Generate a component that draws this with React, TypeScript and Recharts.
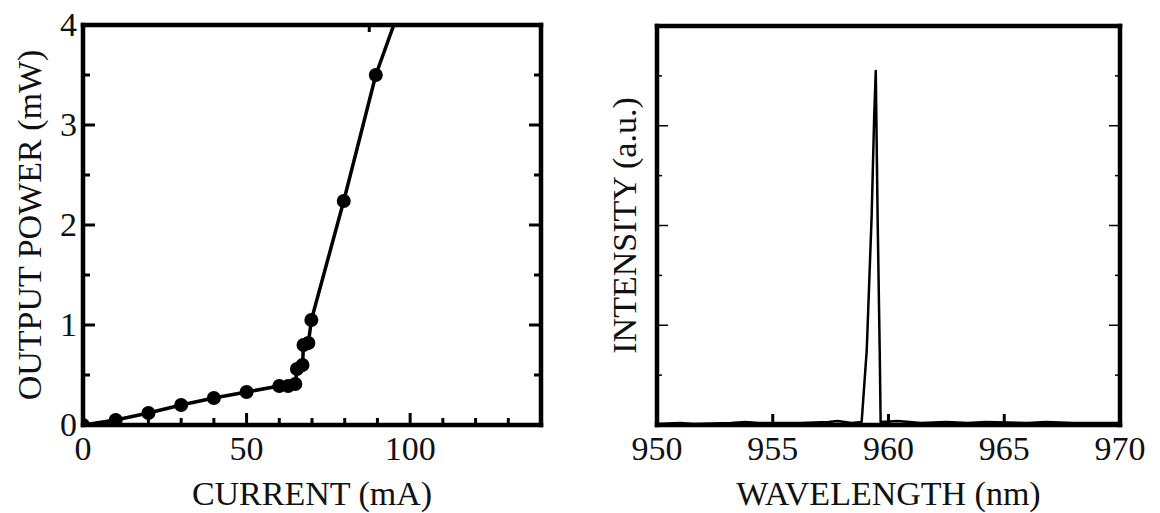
import { ComposedChart, Line, XAxis, YAxis } from 'recharts';

// L-I curve
const currentMA = [0, 10, 20, 30, 40, 50, 60, 62.7, 64.9, 65.4, 67.1, 67.4, 68.9, 69.8, 79.7, 89.5];
const powerMW = [0, 0.05, 0.12, 0.2, 0.27, 0.33, 0.39, 0.39, 0.41, 0.56, 0.6, 0.8, 0.82, 1.05, 2.24, 3.5];
// the drawn line keeps going past the last dot up to the frame
const fitEndMA = 95;
const fitEndMW = 4;

// lasing spectrum, right panel
const wavelengthNm = [
  950, 951, 951.6, 953.2, 953.8, 954.4, 955, 956.2, 957.4, 957.8, 958.4, 958.84, 959.06, 959.27, 959.38,
  959.45, 959.53, 959.62, 959.66, 960.4, 960.9, 961.4, 962.5, 963.4, 964.2, 966, 966.8, 968, 969.2, 970,
];
const intensityAU = [
  0.01, 0.02, 0.01, 0.02, 0.03, 0.02, 0.02, 0.02, 0.03, 0.04, 0.02, 0.03, 0.75, 2.08, 3.08,
  3.55, 2.08, 0.75, 0.03, 0.04, 0.03, 0.02, 0.03, 0.02, 0.03, 0.02, 0.03, 0.02, 0.02, 0.02,
];

const currentTicks = [0, 10, 20, 30, 40, 50, 60, 70, 80, 90, 100, 110, 120, 130, 140];
const currentLabels = [0, 50, 100];
const levelTicks = [0, 0.5, 1, 1.5, 2, 2.5, 3, 3.5, 4];
const powerLabels = [0, 1, 2, 3, 4];
const wavelengthTicks = [950, 955, 960, 965, 970];

const INK = '#000';
const TEXT = '#111';
const FONT = '"Liberation Serif", "DejaVu Serif", "Noto Serif", serif';
const FS = 34;

type Side = 'bottom' | 'top' | 'left' | 'right';

// ticks point into the plot; ends sit on the frame and are skipped
function inwardTick(side: Side, o: {
  min: number; max: number; long: number; short: number; w: number;
  major: (v: number) => boolean; label?: (v: number) => boolean;
}) {
  return (props: any) => {
    const { x, y, payload } = props;
    const v = payload.value as number;
    const len = o.major(v) ? o.long : o.short;
    const d = side === 'bottom' ? [0, -len] : side === 'top' ? [0, len] : side === 'left' ? [len, 0] : [-len, 0];
    const showLine = v > o.min && v < o.max;
    const showText = o.label ? o.label(v) : false;
    return (
      <g>
        {showLine && <line x1={x} y1={y} x2={x + d[0]} y2={y + d[1]} stroke={INK} strokeWidth={o.w} />}
        {showText && side === 'bottom' && (
          <text x={x} y={y + 35} textAnchor="middle" fontSize={FS} style={{ fontFamily: FONT }} fill={TEXT}>{v}</text>
        )}
        {showText && side === 'left' && (
          <text x={x - 6} y={y + 11} textAnchor="end" fontSize={FS} style={{ fontFamily: FONT }} fill={TEXT}>{v}</text>
        )}
      </g>
    );
  };
}

const frame = { stroke: INK, strokeWidth: 4.5, strokeLinecap: 'square' as const };
const isInt = (v: number) => Number.isInteger(v);
const titleFont = { fontSize: FS, fill: TEXT };

function LiChart() {
  const rows = currentMA
    .map((c, i) => ({ current: c, power: powerMW[i], measured: true }))
    .concat({ current: fitEndMA, power: fitEndMW, measured: false });
  const xo = { min: 0, max: 140, long: 12, short: 7, w: 3, major: (v: number) => v % 50 === 0 };
  const yo = { min: 0, max: 4, long: 12, short: 7, w: 3, major: isInt };
  return (
    <ComposedChart width={580} height={513} data={rows} margin={{ top: 20, right: 29, bottom: 0, left: 23 }}>
      <XAxis xAxisId="b" dataKey="current" type="number" domain={[0, 140]} allowDataOverflow ticks={currentTicks}
        interval={0} height={88} tickSize={0} tickMargin={0} tickLine={false} axisLine={frame}
        tick={inwardTick('bottom', { ...xo, label: (v) => currentLabels.includes(v) })}
        label={{ value: 'CURRENT (mA)', position: 'insideBottom', offset: 8, ...titleFont, style: { fontFamily: FONT } }} />
      <XAxis xAxisId="t" orientation="top" type="number" domain={[0, 140]} allowDataOverflow ticks={currentTicks}
        interval={0} height={5} tickSize={0} tickMargin={0} tickLine={false} axisLine={frame}
        tick={inwardTick('top', xo)} />
      <YAxis yAxisId="l" type="number" domain={[0, 4]} allowDataOverflow ticks={levelTicks} interval={0}
        width={60} tickSize={0} tickMargin={0} tickLine={false} axisLine={frame}
        tick={inwardTick('left', { ...yo, label: (v) => powerLabels.includes(v) })}
        label={{ value: 'OUTPUT POWER (mW)', angle: -90, position: 'insideLeft', offset: 6, ...titleFont, style: { textAnchor: 'middle', fontFamily: FONT } }} />
      <YAxis yAxisId="r" orientation="right" type="number" domain={[0, 4]} allowDataOverflow ticks={levelTicks}
        interval={0} width={10} tickSize={0} tickMargin={0} tickLine={false} axisLine={frame}
        tick={inwardTick('right', yo)} />
      <Line xAxisId="b" yAxisId="l" dataKey="power" type="linear" stroke={INK} strokeWidth={3.5}
        isAnimationActive={false}
        dot={(p: any) => p.payload.measured
          ? <circle key={p.index} cx={p.cx} cy={p.cy} r={7} fill={INK} stroke="none" />
          : <g key={p.index} />} />
    </ComposedChart>
  );
}

function SpectrumChart() {
  const rows = wavelengthNm.map((w, i) => ({ wavelength: w, intensity: intensityAU[i] }));
  const xo = { min: 950, max: 970, long: 11, short: 11, w: 3, major: () => true };
  const yo = { min: 0, max: 4, long: 11, short: 5, w: 1.5, major: isInt };
  return (
    <ComposedChart width={580} height={513} data={rows} margin={{ top: 21, right: 30, bottom: 0, left: 17 }}>
      <XAxis xAxisId="b" dataKey="wavelength" type="number" domain={[950, 970]} allowDataOverflow ticks={wavelengthTicks}
        interval={0} height={88} tickSize={0} tickMargin={0} tickLine={false} axisLine={frame}
        tick={inwardTick('bottom', { ...xo, label: () => true })}
        label={{ value: 'WAVELENGTH (nm)', position: 'insideBottom', offset: 8, ...titleFont, style: { fontFamily: FONT } }} />
      <XAxis xAxisId="t" orientation="top" type="number" domain={[950, 970]} allowDataOverflow ticks={wavelengthTicks}
        interval={0} height={5} tickSize={0} tickMargin={0} tickLine={false} axisLine={frame}
        tick={inwardTick('top', xo)} />
      <YAxis yAxisId="l" type="number" domain={[0, 4]} allowDataOverflow ticks={levelTicks} interval={0}
        width={60} tickSize={0} tickMargin={0} tickLine={false} axisLine={frame}
        tick={inwardTick('left', yo)}
        label={{ value: 'INTENSITY (a.u.)', angle: -90, position: 'insideLeft', offset: 27, ...titleFont, style: { textAnchor: 'middle', fontFamily: FONT } }} />
      <YAxis yAxisId="r" orientation="right" type="number" domain={[0, 4]} allowDataOverflow ticks={levelTicks}
        interval={0} width={10} tickSize={0} tickMargin={0} tickLine={false} axisLine={frame}
        tick={inwardTick('right', yo)} />
      <Line xAxisId="b" yAxisId="l" dataKey="intensity" type="linear" stroke={INK} strokeWidth={2.5}
        strokeLinejoin="round" dot={false} isAnimationActive={false} />
    </ComposedChart>
  );
}

export default function App() {
  return (
    <div style={{ position: 'absolute', left: 0, top: 0, width: 1160, height: 513, background: '#fff', fontFamily: FONT }}>
      <div style={{ position: 'absolute', left: 0, top: 0 }}>
        <LiChart />
      </div>
      <div style={{ position: 'absolute', left: 580, top: 0 }}>
        <SpectrumChart />
      </div>
    </div>
  );
}
